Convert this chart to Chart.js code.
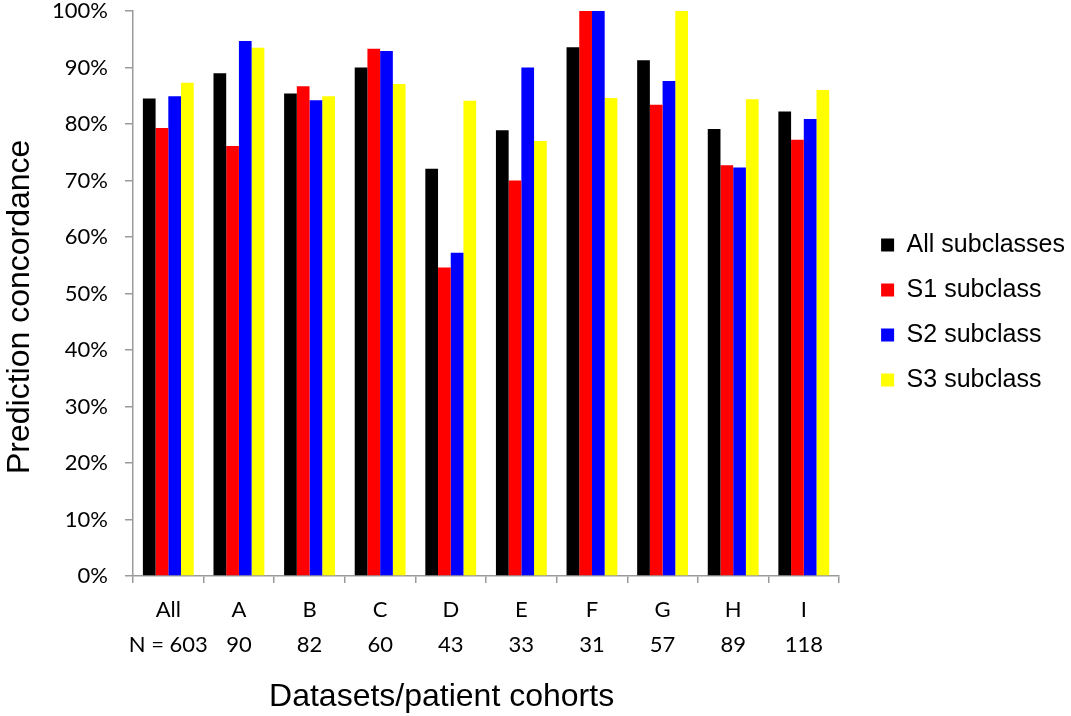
<!DOCTYPE html>
<html><head><meta charset="utf-8">
<script src="https://cdn.jsdelivr.net/npm/chart.js@4/dist/chart.umd.min.js"></script>
<style>html,body{margin:0;padding:0;background:#fff;}</style>
</head><body>
<canvas id="c" width="1071" height="716"></canvas>
<script>
const categories = ['All', 'A', 'B', 'C', 'D', 'E', 'F', 'G', 'H', 'I'];
const sampleSizes = ['N = 603', '90', '82', '60', '43', '33', '31', '57', '89', '118'];
const seriesNames = ['All subclasses', 'S1 subclass', 'S2 subclass', 'S3 subclass'];
const allSubclasses = [84.5, 89.0, 85.4, 90.0, 72.1, 78.9, 93.6, 91.3, 79.1, 82.2];
const s1Subclass = [79.3, 76.1, 86.7, 93.3, 54.6, 70.0, 100, 83.4, 72.7, 77.2];
const s2Subclass = [84.9, 94.7, 84.2, 92.9, 57.2, 90.0, 100, 87.6, 72.3, 80.9];
const s3Subclass = [87.3, 93.5, 84.9, 87.1, 84.1, 77.0, 84.6, 100, 84.4, 86.0];
const yTickValues = [0, 10, 20, 30, 40, 50, 60, 70, 80, 90, 100];
const yAxisTitle = 'Prediction concordance';
const xAxisTitle = 'Datasets/patient cohorts';

const colors = ['#000000', '#ff0000', '#0000ff', '#ffff00'];
const seriesValues = [allSubclasses, s1Subclass, s2Subclass, s3Subclass];
const axisGray = '#9a9a9a';
const tickFont = {family: 'Lato, "Open Sans", sans-serif', size: 22};
const titleFont = {family: '"Liberation Sans", Arial, sans-serif', size: 32};

const legendShift = {
  id: 'legendShift',
  afterLayout(chart) {
    const l = chart.legend;
    if (!l) return;
    l.left += 22; l.right += 22;
    l.top += 19; l.bottom += 19;
  }
};

new Chart(document.getElementById('c'), {
  type: 'bar',
  data: {
    labels: categories.map((c, i) => [c, sampleSizes[i]]),
    datasets: seriesNames.map((name, i) => ({
      label: name,
      data: seriesValues[i],
      backgroundColor: colors[i],
      borderWidth: 0,
      barPercentage: 1,
      categoryPercentage: 0.72
    }))
  },
  options: {
    responsive: false,
    animation: false,
    devicePixelRatio: 1,
    layout: {padding: {left: 0, right: 18, top: 11, bottom: 0}},
    plugins: {
      legend: {
        position: 'right',
        fullSize: false,
        labels: {
          boxWidth: 13, boxHeight: 13, padding: 20, color: '#000',
          font: {family: '"Liberation Sans", Arial, sans-serif', size: 25}
        }
      },
      tooltip: {enabled: false}
    },
    scales: {
      y: {
        min: 0, max: 100,
        afterBuildTicks(scale) { scale.ticks = yTickValues.map(v => ({value: v})); },
        afterFit(scale) { scale.width = 133; scale.paddingTop = 11; scale.paddingBottom = 0; },
        ticks: {
          callback: v => v + '%',
          color: '#000', padding: 17,
          font: {...tickFont, lineHeight: 1}
        },
        grid: {display: true, drawOnChartArea: false, drawTicks: true, tickLength: 8, color: axisGray, lineWidth: 1.5},
        border: {display: true, color: axisGray, width: 1.5},
        title: {
          display: true, text: yAxisTitle + '   ', color: '#000',
          font: titleFont, padding: {top: 1, bottom: 0}
        }
      },
      x: {
        afterFit(scale) { scale.height = 140; },
        ticks: {
          color: '#000', padding: 9, maxRotation: 0, autoSkip: false,
          font: {...tickFont, lineHeight: '35px'}
        },
        grid: {display: true, offset: true, drawOnChartArea: false, drawTicks: true, tickLength: 7, color: axisGray, lineWidth: 1.5},
        border: {display: true, color: axisGray, width: 1.5},
        title: {
          display: true, text: xAxisTitle + '          ', color: '#000',
          font: titleFont, padding: {top: 0, bottom: 0}
        }
      }
    }
  },
  plugins: [legendShift]
});
</script>
</body></html>
